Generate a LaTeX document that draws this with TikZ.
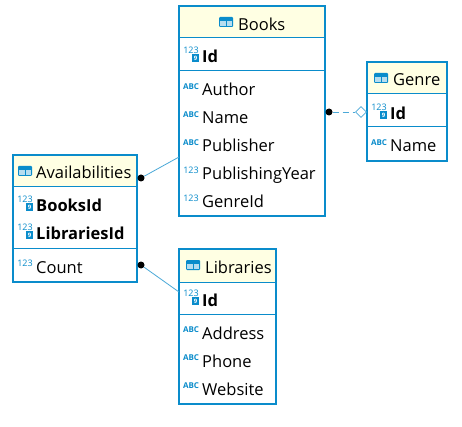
\documentclass[tikz,border=0pt]{standalone}
\usepackage{fontspec}
\setmainfont{Open Sans}
\usetikzlibrary{shapes.geometric}
\definecolor{erblue}{HTML}{0A8CCB}
\definecolor{erline}{HTML}{4BA9D8}
\definecolor{erhead}{HTML}{FFFFE3}
\tikzset{
  tablebox/.style={draw=erblue,line width=2.5pt,anchor=north west,inner sep=0pt,outer sep=0pt},
  headbox/.style={fill=erhead,anchor=north west,inner sep=0pt,outer sep=0pt},
  sepline/.style={draw=erblue,line width=1pt},
  field/.style={anchor=base west,inner sep=0pt,font=\fontsize{16.5}{18}\selectfont},
  typetag/.style={anchor=center,inner sep=0pt,text=erblue,font=\fontsize{9}{9}\selectfont},
  reldot/.style={circle,fill=black,inner sep=0pt,minimum size=7pt},
  relopt/.style={diamond,draw=erline,fill=white,line width=.7pt,inner sep=0pt,minimum size=11pt},
  relline/.style={draw=erline,line width=.8pt},
  pics/tableicon/.style={code={
    \fill[erblue,rounded corners=1pt] (-7,-5) rectangle (7,5);
    \fill[white!70!erblue] (-6,-1) rectangle (-.5,4);
    \fill[white!70!erblue] (.5,-1) rectangle (6,4);
  }},
  pics/keyicon/.style={code={
    \fill[erblue] (1,-1) rectangle (8,7);
    \node[inner sep=0pt,text=white,font=\fontsize{6}{6}\selectfont\bfseries] at (4.5,3) {9};
  }},
}
% one line of a table: name, x of text, baseline y, tag, text
\newcommand{\numfield}[4]{%
  \node[typetag] (#1tag) at (#2-11,#3-10) {123};
  \node[field] (#1) at (#2,#3) {#4};}
\newcommand{\abcfield}[4]{%
  \node[typetag,font=\fontsize{8}{9}\selectfont\bfseries] (#1tag) at (#2-11,#3-9) {ABC};
  \node[field] (#1) at (#2,#3) {#4};}
\newcommand{\keyfield}[4]{%
  \node[typetag] (#1tag) at (#2-11,#3-13) {123};
  \pic at (#2-11,#3-8) {keyicon};
  \node[field] (#1) at (#2,#3) {\bfseries #4};}
\begin{document}
\begin{tikzpicture}[x=1pt,y=-1pt]
\useasboundingbox[fill=white] (0,0) rectangle (462,427);
% Books
\node[headbox,minimum width=146pt,minimum height=32pt] (BooksHead) at (179,6) {};
\pic at (226,22) {tableicon};
\node[field] (BooksTitle) at (238,31) {Books};
\draw[sepline] (179,38) -- (325,38);
\keyfield{BooksId}{202}{63}{Id}
\draw[sepline] (179,71) -- (325,71);
\abcfield{BooksAuthor}{202}{96}{Author}
\abcfield{BooksName}{202}{124}{Name}
\abcfield{BooksPublisher}{202}{152}{Publisher}
\numfield{BooksYear}{202}{180}{PublishingYear}
\numfield{BooksGenreId}{202}{208}{GenreId}
\node[tablebox,minimum width=146pt,minimum height=210pt] (Books) at (179,6) {};
% Genre
\node[headbox,minimum width=80pt,minimum height=32pt] (GenreHead) at (367,62) {};
\pic at (381,78) {tableicon};
\node[field] (GenreTitle) at (393,86) {Genre};
\draw[sepline] (367,94) -- (447,94);
\keyfield{GenreId}{390}{120}{Id}
\draw[sepline] (367,127) -- (447,127);
\abcfield{GenreName}{390}{152}{Name}
\node[tablebox,minimum width=80pt,minimum height=99pt] (Genre) at (367,62) {};
% Availabilities
\node[headbox,minimum width=124pt,minimum height=32pt] (AvailHead) at (13,155) {};
\pic at (25,171) {tableicon};
\node[field] (AvailTitle) at (36,179) {Availabilities};
\draw[sepline] (13,187) -- (137,187);
\keyfield{AvailBooksId}{36}{212}{BooksId}
\keyfield{AvailLibrariesId}{36}{240}{LibrariesId}
\draw[sepline] (13,248) -- (137,248);
\numfield{AvailCount}{36}{273}{Count}
\node[tablebox,minimum width=124pt,minimum height=127pt] (Avail) at (13,155) {};
% Libraries
\node[headbox,minimum width=97pt,minimum height=33pt] (LibHead) at (179,249) {};
\pic at (193,265) {tableicon};
\node[field] (LibTitle) at (205,273) {Libraries};
\draw[sepline] (179,282) -- (276,282);
\keyfield{LibId}{202}{306}{Id}
\draw[sepline] (179,314) -- (276,314);
\abcfield{LibAddress}{202}{339}{Address}
\abcfield{LibPhone}{202}{367}{Phone}
\abcfield{LibWebsite}{202}{395}{Website}
\node[tablebox,minimum width=97pt,minimum height=155pt] (Lib) at (179,249) {};
% relations
\coordinate (BooksIn) at (179,157);
\coordinate (LibIn) at (179,292);
\node[reldot] (AvailDot) at (141,178) {};
\node[reldot] (CountDot) at (141,265) {};
\node[reldot] (BooksDot) at (329,112) {};
\node[relopt] (GenreOpt) at (361,112) {};
\draw[relline] (AvailDot) -- (BooksIn);
\draw[relline] (CountDot) -- (LibIn);
\draw[relline,dash pattern=on 6pt off 4pt] (BooksDot) -- (GenreOpt);
\end{tikzpicture}
\end{document}
